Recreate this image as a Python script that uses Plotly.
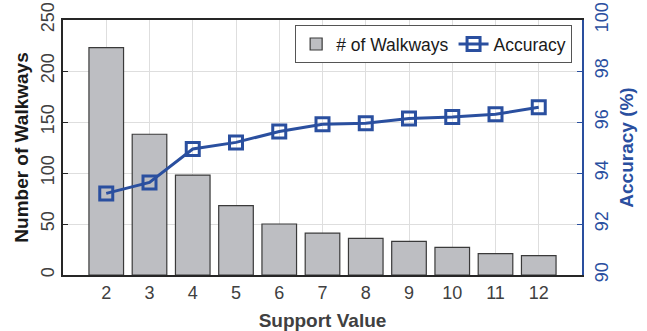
import plotly.graph_objects as go

# Support values and measured results
support = [2, 3, 4, 5, 6, 7, 8, 9, 10, 11, 12]
walkways = [223, 138, 98, 68, 50, 41, 36, 33, 27, 21, 19]
accuracy = [93.2, 93.63, 94.94, 95.2, 95.63, 95.91, 95.95, 96.14, 96.2, 96.3, 96.58]

left_ticks = [0, 50, 100, 150, 200, 250]
right_ticks = [90, 92, 94, 96, 98, 100]

BLUE = "#2a4f9f"
DARK = "#262626"
GRID = "#dedede"
FONT = "Liberation Sans, Arial, sans-serif"

fig = go.Figure()

fig.add_trace(go.Bar(
    x=support, y=walkways, name="# of Walkways", width=0.8,
    marker=dict(color="#bdbec2", line=dict(color="#3a3a3a", width=1.2)),
    yaxis="y",
))

fig.add_trace(go.Scatter(
    x=support, y=accuracy, name="Accuracy", mode="lines+markers",
    line=dict(color=BLUE, width=3),
    marker=dict(symbol="square-open", size=13, color=BLUE, line=dict(color=BLUE, width=3)),
    yaxis="y2",
))

fig.update_layout(
    width=647, height=331,
    margin=dict(l=63, r=65, t=20, b=56, autoexpand=False),
    plot_bgcolor="white", paper_bgcolor="white",
    font=dict(family=FONT, size=18, color="#404040"),
    showlegend=True,
    legend=dict(
        orientation="h", x=0.981, y=0.98, xanchor="right", yanchor="top",
        bordercolor="#555555", borderwidth=1, bgcolor="white",
        font=dict(size=17.5, color="#1a1a1a"),
        itemwidth=30, tracegroupgap=0,
    ),
    xaxis=dict(
        range=[1, 13], tickmode="array", tickvals=support, ticktext=[str(s) for s in support],
        showgrid=True, gridcolor=GRID, gridwidth=1,
        showline=True, linecolor=DARK, linewidth=1.5, mirror=True,
        ticks="", zeroline=False, ticklabelstandoff=1, automargin=False,
        title=dict(text="<b>Support Value</b>", font=dict(size=19, color="#404040"), standoff=11),
    ),
    yaxis=dict(
        range=[0, 250], tickvals=left_ticks, tickangle=-90,
        showgrid=True, gridcolor=GRID, gridwidth=1,
        showline=True, linecolor=DARK, linewidth=1.5,
        ticks="inside", ticklen=5, tickcolor=DARK, zeroline=False, automargin=False,
        title=dict(text="<b>Number of Walkways</b>", font=dict(size=19, color="#1a1a1a"), standoff=4),
    ),
    yaxis2=dict(
        range=[90, 100], tickvals=right_ticks, tickangle=-90,
        overlaying="y", side="right", showgrid=False,
        showline=True, linecolor=BLUE, linewidth=1.5,
        ticks="inside", ticklen=5, tickcolor=BLUE, zeroline=False,
        tickfont=dict(color=BLUE), ticklabelstandoff=3, automargin=False,
        title=dict(text="<b>Accuracy (%)</b>", font=dict(size=19, color=BLUE), standoff=8),
    ),
)

fig.write_html("out.html")
